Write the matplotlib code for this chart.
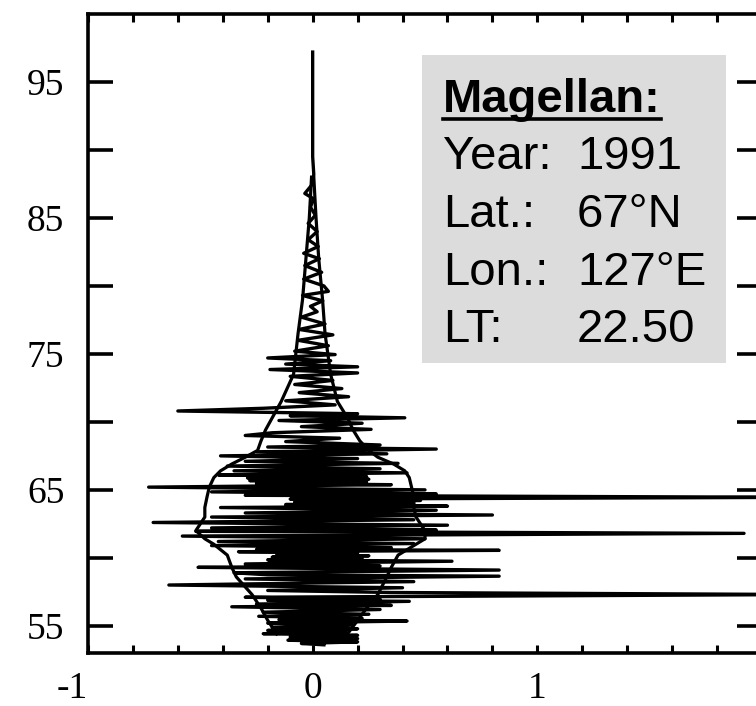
import matplotlib
matplotlib.use("Agg")
import matplotlib.pyplot as plt
from matplotlib.lines import Line2D
from matplotlib.patches import Rectangle

W, H = 756, 706

# measured profile: altitude (km) and signal value, top to bottom
trace_alt = [
    97.2, 95.5, 93.5, 91.5, 89.5, 88.2, 87.4, 86.8, 86.4, 85.8, 85.2, 84.6,
    84.0, 83.4, 82.9, 82.4, 82.0, 81.5, 81.0, 80.5, 80.0, 79.6, 79.3, 78.9,
    78.5, 78.1, 77.7, 77.2, 76.8, 76.4, 76.0, 75.6, 75.2, 74.95, 74.7, 74.5,
    74.25, 74.05, 73.85, 73.6, 73.35, 73.05, 72.75, 72.45, 72.15, 71.85,
    71.55, 71.25, 71.0, 70.8, 70.6, 70.45, 70.3, 70.1, 69.9, 69.65, 69.45,
    69.2, 69.0, 68.8, 68.55, 68.3, 68.15, 68.0, 67.8, 67.65, 67.5, 67.3,
    67.1, 66.95, 66.75, 66.55, 66.4, 66.25, 66.1, 65.98, 65.88, 65.78,
    65.68, 65.58, 65.48, 65.38, 65.2, 65.0, 64.85, 64.7, 64.6, 64.45, 64.32,
    64.22, 64.12, 64.02, 63.92, 63.8, 63.7, 63.5, 63.3, 63.15, 63.0, 62.8,
    62.6, 62.4, 62.2, 62.05, 61.95, 61.8, 61.6, 61.4, 61.2, 61.05, 60.9,
    60.75, 60.62, 60.55, 60.45, 60.35, 60.25, 60.15, 60.05, 59.95, 59.85,
    59.75, 59.55, 59.4, 59.3, 59.1, 58.9, 58.75, 58.65, 58.45, 58.25, 58.0,
    57.8, 57.6, 57.45, 57.3, 57.1, 56.95, 56.88, 56.8, 56.6, 56.5, 56.4,
    56.2, 56.0, 55.85, 55.7, 55.55, 55.45, 55.35, 55.2, 55.05, 54.9, 54.78,
    54.66, 54.54, 54.42, 54.3, 54.18, 54.06, 53.94, 53.82, 53.7, 53.6,
]
trace_val = [
    0.0, 0.0, 0.0, 0.0, 0.0, 0.005, -0.005, -0.035, 0.005, -0.01,
    0.012, -0.02, 0.02, -0.02, 0.025, -0.04, 0.03, -0.035, 0.04, -0.04,
    0.05, 0.07, -0.045, 0.045, -0.01, 0.02, -0.05, 0.055, -0.06, 0.09,
    -0.065, 0.07, -0.08, 0.1, -0.2, 0.08, -0.12, 0.2, -0.19, 0.2, -0.1,
    0.09, -0.08, 0.13, -0.06, 0.16, -0.12, 0.1, -0.22, -0.6, 0.2, -0.1,
    0.41, -0.15, 0.22, -0.05, 0.26, -0.18, -0.3, 0.12, -0.12, 0.3, -0.2,
    0.55, -0.25, 0.33, -0.41, 0.2, -0.3, 0.38, -0.38, 0.3, -0.35, 0.42,
    -0.42, 0.24, -0.29, 0.25, -0.28, 0.24, -0.25, 0.35, -0.73, 0.5, -0.45,
    0.55, -0.3, 2.2, -0.1, 0.48, -0.08, 0.45, -0.12, 0.6, -0.41, 0.55,
    -0.3, 0.8, -0.45, 0.45, -0.71, 0.6, -0.45, 0.55, -0.52, 1.92, -0.58,
    0.5, -0.42, 0.45, -0.45, 0.35, -0.25, 0.83, -0.33, 0.2, -0.16, 0.25,
    -0.18, 0.22, -0.2, 0.62, -0.3, 0.3, -0.51, 0.83, -0.35, -0.2, 0.83,
    -0.3, 0.45, -0.64, 0.4, -0.2, 0.35, 2.2, -0.3, 0.3, -0.2, 0.43, -0.25,
    0.35, -0.36, 0.3, -0.22, 0.25, -0.24, 0.22, -0.15, 0.42, -0.2, 0.18,
    -0.18, 0.2, -0.2, 0.15, -0.22, 0.2, -0.1, 0.2, -0.11, 0.2, -0.05, 0.05,
]

# smooth envelope around the profile
env_alt = [88.0, 85.0, 82.0, 79.0, 76.5, 73.5, 71.5, 70.3, 69.4, 68.6, 67.9,
           67.4, 66.9, 66.4, 65.9, 65.2, 64.5, 63.7, 63.0, 62.5, 62.0, 61.4,
           61.0, 60.2, 59.3, 58.6, 57.3, 56.3, 55.4, 54.4]
env_left = [-0.005, -0.015, -0.03, -0.045, -0.065, -0.085, -0.14, -0.18,
            -0.21, -0.23, -0.245, -0.3, -0.36, -0.41, -0.44, -0.46, -0.47,
            -0.48, -0.48, -0.5, -0.52, -0.48, -0.44, -0.38, -0.36, -0.34,
            -0.27, -0.23, -0.2, -0.16]
env_right = [0.005, 0.015, 0.027, 0.044, 0.055, 0.08, 0.11, 0.155, 0.18,
             0.21, 0.25, 0.29, 0.36, 0.41, 0.43, 0.44, 0.45, 0.45, 0.46,
             0.48, 0.5, 0.5, 0.46, 0.38, 0.35, 0.33, 0.29, 0.24, 0.2, 0.155]

x_ticks = [-1.0, -0.8, -0.6, -0.4, -0.2, 0.0, 0.2, 0.4, 0.6, 0.8,
           1.0, 1.2, 1.4, 1.6, 1.8, 2.0]
x_labels = ["-1", "", "", "", "", "0", "", "", "", "",
            "1", "", "", "", "", ""]
y_ticks = [55, 60, 65, 70, 75, 80, 85, 90, 95]
y_labels = ["55", "", "65", "", "75", "", "85", "", "95"]

info_keys = ["Year:", "Lat.:", "Lon.:", "LT:"]
info_vals = ["1991", "67°N", "127°E", "22.50"]

SERIF = "Liberation Serif"
SANS = "Liberation Sans"

fig = plt.figure(figsize=(W / 100, H / 100), dpi=100)
fig.patch.set_facecolor("white")
ax = fig.add_axes([88 / W, 53 / H, 674 / W, 639 / H])

ax.plot(trace_val, trace_alt, color="black", lw=2.4)
ax.plot(env_left, env_alt, color="black", lw=2.3)
ax.plot(env_right, env_alt, color="black", lw=2.3)

ax.set_xlim(-1, 2)
ax.set_ylim(53, 100)
for side in ax.spines.values():
    side.set_linewidth(2.6)

ax.set_xticks(x_ticks)
ax.set_xticklabels(x_labels, family=SERIF, fontsize=27)
ax.set_yticks(y_ticks)
ax.set_yticklabels(y_labels, family=SERIF, fontsize=27)
ax.tick_params(axis="x", direction="in", length=6, width=2.2, pad=13,
               top=True, bottom=True)
ax.tick_params(axis="y", direction="in", length=18, width=2.6, pad=17,
               left=True, right=True)
ax.get_xticklabels()[0].set_ha("right")

# station info panel
fig.add_artist(Rectangle((422 / W, 1 - 363 / H), 304 / W, 308 / H,
                         transform=fig.transFigure, facecolor="#dcdcdc",
                         edgecolor="none"))
title = fig.text(443 / W, 1 - 112 / H, "Magellan:", family=SANS,
                 fontweight="bold", fontsize=34, va="baseline")
baselines = [169, 227, 285, 342]
for key, val, yb in zip(info_keys, info_vals, baselines):
    fig.text(443 / W, 1 - yb / H, key, family=SANS, fontsize=34, va="baseline")
    fig.text(577 / W, 1 - yb / H, val, family=SANS, fontsize=34, va="baseline")

fig.canvas.draw()
bb = title.get_window_extent()
fig.add_artist(Line2D([bb.x0 / W, bb.x1 / W], [1 - 119 / H] * 2,
                      transform=fig.transFigure, color="black", lw=2.6))

fig.savefig("out.png", dpi=100, facecolor="white")
